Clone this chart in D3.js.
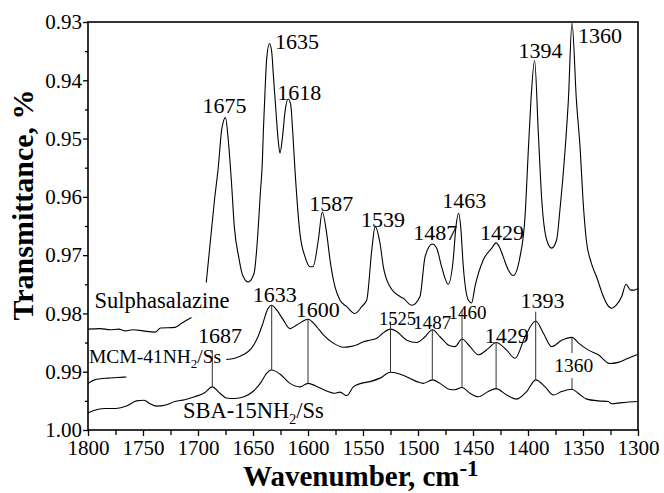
<!DOCTYPE html>
<html>
<head>
<meta charset="utf-8">
<script src="https://cdn.jsdelivr.net/npm/d3@7"></script>
<style>
  body { margin: 0; background: #fff; }
  svg { display: block; }
</style>
</head>
<body>
<svg id="chart" width="664" height="493"></svg>
<script>
const SERIF = '"Liberation Serif", "Times New Roman", Times, serif';

// ---- Axis ticks ----
const xTicks = [1800, 1750, 1700, 1650, 1600, 1550, 1500, 1450, 1400, 1350, 1300];
const xMinorTicks = [1775, 1725, 1675, 1625, 1575, 1525, 1475, 1425, 1375, 1325];
const yTicks = [0.93, 0.94, 0.95, 0.96, 0.97, 0.98, 0.99, 1.00];
const yMinorTicks = [0.935, 0.945, 0.955, 0.965, 0.975, 0.985, 0.995];

// ---- Sulphasalazine spectrum (two segments, split around its name) ----
const sulfaLeftWn = [1800, 1789, 1780, 1772, 1766, 1759, 1750, 1739, 1734, 1721, 1715, 1706];
const sulfaLeftT  = [0.9827, 0.9826, 0.9828, 0.9827, 0.9830, 0.9828, 0.9830, 0.9832, 0.9825, 0.9824, 0.9817, 0.9807];

const sulfaWn = [1692.5, 1685, 1681.5, 1678.5, 1675, 1672.5, 1669.5, 1667, 1663, 1659.5, 1654.3, 1649, 1646, 1643.2,
  1641.5, 1640.6, 1639.1, 1637.5, 1635, 1633, 1631.5, 1629.1, 1627, 1625.5, 1623, 1620.9, 1618, 1615.7, 1613.9,
  1611.8, 1607.3, 1602.7, 1598, 1595.5, 1590.6, 1587, 1583, 1580,
  1575.5, 1571, 1565, 1557.3, 1551, 1546.6, 1542, 1539, 1534.5, 1531.5, 1525.5, 1516.4, 1513.4, 1505.7, 1498.2,
  1493.6, 1487, 1483, 1478.5, 1472.5, 1468, 1465.5, 1463, 1461.2, 1458.8, 1454.3, 1451.2, 1448.2, 1440.6, 1433,
  1429, 1425.5, 1422.5, 1418, 1413.4, 1407.3, 1402.7, 1399.7, 1397.3, 1394, 1390.6, 1387.5, 1383, 1378.5, 1374,
  1371, 1366.3, 1363.3, 1360, 1356, 1352.5, 1350, 1347, 1342.7, 1337.5, 1331.5, 1328.2, 1324, 1320, 1314.8, 1310.9,
  1306.6, 1303.6, 1300];
const sulfaT = [0.9747, 0.9605, 0.9548, 0.9485, 0.9464, 0.9502, 0.9577, 0.9651, 0.9703, 0.9734, 0.9746, 0.9731, 0.9674, 0.9590,
  0.9540, 0.9488, 0.9420, 0.9362, 0.9337, 0.9351, 0.9391, 0.9454, 0.9505, 0.9525, 0.9494, 0.9454, 0.9432, 0.9442, 0.9488,
  0.9555, 0.9663, 0.9703, 0.9720, 0.9720, 0.9674, 0.9626, 0.9663, 0.9708,
  0.9754, 0.9777, 0.9788, 0.9800, 0.9788, 0.9777, 0.9691, 0.9651, 0.9680, 0.9720, 0.9754, 0.9771, 0.9774, 0.9786, 0.9771,
  0.9703, 0.9681, 0.9688, 0.9720, 0.9750, 0.9708, 0.9651, 0.9628, 0.9651, 0.9720, 0.9777, 0.9782, 0.9754, 0.9708, 0.9688,
  0.9679, 0.9688, 0.9703, 0.9725, 0.9735, 0.9703, 0.9634, 0.9520, 0.9434, 0.9366, 0.9491, 0.9605, 0.9674, 0.9688, 0.9674,
  0.9623, 0.9520, 0.9434, 0.9302, 0.9434, 0.9520, 0.9605, 0.9674, 0.9712, 0.9738, 0.9771, 0.9784, 0.9791, 0.9786, 0.9771, 0.9750,
  0.9760, 0.9760, 0.9757];

// ---- MCM-41NH2/Ss spectrum (two segments) ----
const mcmLeftWn = [1800, 1794, 1782, 1773, 1765];
const mcmLeftT  = [0.9920, 0.9914, 0.9911, 0.9910, 0.9909];

const mcmWn = [1674.3, 1666.6, 1659.1, 1651.5, 1645.5, 1641, 1637, 1633, 1628.5, 1622.5, 1616.4, 1610.3, 1604.3, 1600,
  1592, 1586, 1577, 1568, 1562, 1556, 1550, 1544, 1537, 1532, 1525, 1519.4, 1510.3, 1501.2, 1493.6, 1487, 1480,
  1472.5, 1466.4, 1460, 1452.7, 1445.2, 1436, 1429, 1419.4, 1411.8, 1402.7, 1393, 1386, 1378.5, 1369.4, 1360, 1354,
  1345, 1336, 1325.5, 1318, 1309, 1300];
const mcmT = [0.9879, 0.9877, 0.9871, 0.9860, 0.9840, 0.9817, 0.9794, 0.9786, 0.9794, 0.9811, 0.9826, 0.9820, 0.9813, 0.9810,
  0.9823, 0.9837, 0.9851, 0.9858, 0.9857, 0.9854, 0.9849, 0.9846, 0.9842, 0.9834, 0.9827, 0.9831, 0.9846, 0.9850, 0.9840, 0.9828, 0.9840,
  0.9854, 0.9857, 0.9844, 0.9857, 0.9871, 0.9860, 0.9850, 0.9863, 0.9877, 0.9840, 0.9813, 0.9834, 0.9857, 0.9846, 0.9841, 0.9851,
  0.9863, 0.9871, 0.9886, 0.9884, 0.9877, 0.9870];

// ---- SBA-15NH2/Ss spectrum ----
const sbaWn = [1800, 1794, 1785, 1774.5, 1765, 1756, 1749, 1743.6, 1737.7, 1729.5, 1721, 1712, 1703, 1694, 1687, 1680,
  1674.3, 1666.6, 1658.2, 1650, 1642.3, 1638.2, 1633, 1625.5, 1616.4, 1607.3, 1600, 1590, 1581.8, 1576.4, 1571,
  1564.8, 1558.8, 1551.8, 1543.6, 1534.5, 1525, 1518.2, 1510, 1501, 1495.2, 1487, 1480, 1471.8, 1466.4, 1460,
  1452.7, 1445.2, 1436.1, 1429, 1419.4, 1410.3, 1401.2, 1393, 1384.5, 1377, 1369.4, 1360, 1354.3, 1346.6, 1336.1,
  1327, 1324, 1314.8, 1300];
const sbaT = [0.9971, 0.9966, 0.9963, 0.9963, 0.9959, 0.9950, 0.9949, 0.9955, 0.9959, 0.9957, 0.9951, 0.9948, 0.9943, 0.9936, 0.9926, 0.9937,
  0.9945, 0.9946, 0.9943, 0.9934, 0.9917, 0.9904, 0.9897, 0.9904, 0.9920, 0.9926, 0.9920, 0.9927, 0.9934, 0.9937, 0.9935,
  0.9941, 0.9926, 0.9920, 0.9917, 0.9911, 0.9901, 0.9903, 0.9909, 0.9917, 0.9920, 0.9914, 0.9920, 0.9930, 0.9931, 0.9927,
  0.9937, 0.9943, 0.9934, 0.9929, 0.9940, 0.9947, 0.9934, 0.9914, 0.9926, 0.9940, 0.9934, 0.9930, 0.9937, 0.9947, 0.9950,
  0.9951, 0.9955, 0.9953, 0.9951];

// ---- Peak labels of the Sulphasalazine band ----
const sulfaPeaks = [1675, 1635, 1618, 1587, 1539, 1487, 1463, 1429, 1394, 1360];

// ---- Connector lines between the modified-silica bands ----
const markWn     = [1687, 1633, 1600, 1525, 1487, 1460, 1429, 1393, 1360, 1360];
const markTop    = [0.9863, 0.9786, 0.9810, 0.9814, 0.9828, 0.9794, 0.9850, 0.9797, 0.9841, 0.9911];
const markBottom = [0.9926, 0.9897, 0.9920, 0.9901, 0.9914, 0.9927, 0.9929, 0.9914, 0.9868, 0.9930];

// ---- Labels of the modified-silica bands (anchored at the top of a connector) ----
const silicaPeaks = [1633, 1600, 1687, 1525, 1487, 1460, 1429, 1393, 1360];
const silicaAnchorT = [0.9786, 0.9810, 0.9863, 0.9814, 0.9828, 0.9794, 0.9850, 0.9797, 0.9868];

// ---- Layout ----
const W = 664, H = 493;
const margin = { left: 88, right: 26, top: 22, bottom: 63 };
const plotW = W - margin.left - margin.right;
const plotH = H - margin.top - margin.bottom;

// label offsets in px: [dx, dy, fontSize, anchor]
const sulfaLabelLayout = [
  [-1, -5, 22], [5.5, 5, 22, "start"], [-11, 1, 22, "start"], [9, -1.5, 22], [8, 0, 22],
  [3, -4, 22], [5.5, -5, 22], [6, -3, 22], [6, -2, 22], [6, 20, 22, "start"]
];
const silicaLabelLayout = [
  [3, -3.4, 22], [9.7, -1.8, 22], [7.7, -7.5, 22], [7, 3, 18.5], [0, -1, 19],
  [5.5, 8.6, 19], [10.6, 0, 22], [6.8, -4, 22], [1.8, 19.3, 19.5]
];

const svg = d3.select("#chart");
const g = svg.append("g").attr("transform", `translate(${margin.left},${margin.top})`);

const x = d3.scaleLinear().domain([1800, 1300]).range([0, plotW]);
const y = d3.scaleLinear().domain([0.93, 1.00]).range([0, plotH]);

const zip = (a, b) => a.map((v, i) => [v, b[i]]);
const line = d3.line().x(d => x(d[0])).y(d => y(d[1])).curve(d3.curveMonotoneX);

// Spectra
const spectra = [
  zip(sulfaLeftWn, sulfaLeftT), zip(sulfaWn, sulfaT),
  zip(mcmLeftWn, mcmLeftT), zip(mcmWn, mcmT),
  zip(sbaWn, sbaT)
];
g.selectAll("path.spectrum").data(spectra).join("path")
  .attr("class", "spectrum")
  .attr("d", line)
  .attr("fill", "none")
  .attr("stroke", "#000")
  .attr("stroke-width", 1.1);

// Connector lines
g.selectAll("line.mark").data(markWn.map((w, i) => ({ w, t0: markTop[i], t1: markBottom[i] })))
  .join("line")
  .attr("class", "mark")
  .attr("x1", d => x(d.w)).attr("x2", d => x(d.w))
  .attr("y1", d => y(d.t0)).attr("y2", d => y(d.t1))
  .attr("stroke", "#333")
  .attr("stroke-width", 1);

// Sulphasalazine peak labels
const sulfaLookup = new Map(sulfaWn.map((w, i) => [w, sulfaT[i]]));
g.selectAll("text.peak").data(sulfaPeaks).join("text")
  .attr("class", "peak")
  .attr("x", (w, i) => x(w) + sulfaLabelLayout[i][0])
  .attr("y", (w, i) => y(sulfaLookup.get(w)) + sulfaLabelLayout[i][1])
  .style("font-size", (w, i) => sulfaLabelLayout[i][2] + "px")
  .attr("text-anchor", (w, i) => sulfaLabelLayout[i][3] || "middle")
  .text(w => w);

// Silica band labels
g.selectAll("text.band").data(silicaPeaks).join("text")
  .attr("class", "band")
  .attr("x", (w, i) => x(w) + silicaLabelLayout[i][0])
  .attr("y", (w, i) => y(silicaAnchorT[i]) + silicaLabelLayout[i][1])
  .style("font-size", (w, i) => silicaLabelLayout[i][2] + "px")
  .attr("text-anchor", "middle")
  .text(w => w);

// Series names
g.append("text").attr("x", 6.5).attr("y", 286.3).style("font-size", "22.5px").text("Sulphasalazine");

const mcmName = g.append("text").attr("x", 1).attr("y", 340.5).style("font-size", "19.5px");
mcmName.append("tspan").text("MCM-41NH");
mcmName.append("tspan").style("font-size", "13px").attr("dy", 5).text("2");
mcmName.append("tspan").attr("dy", -5).text("/Ss");

const sbaName = g.append("text").attr("x", 95).attr("y", 396.3).style("font-size", "22.5px");
sbaName.append("tspan").text("SBA-15NH");
sbaName.append("tspan").style("font-size", "14px").attr("dy", 6).text("2");
sbaName.append("tspan").attr("dy", -6).text("/Ss");

// Axes
const xAxis = g.append("g").attr("transform", `translate(0,${plotH})`)
  .call(d3.axisBottom(x).tickValues(xTicks).tickSize(6).tickPadding(4).tickFormat(d3.format("d")));
g.append("g").attr("transform", `translate(0,${plotH})`)
  .call(d3.axisBottom(x).tickValues(xMinorTicks).tickSize(5).tickFormat(""));
const yAxis = g.append("g")
  .call(d3.axisLeft(y).tickValues(yTicks).tickSize(5).tickPadding(1).tickFormat(d3.format(".2f")));
g.append("g")
  .call(d3.axisLeft(y).tickValues(yMinorTicks).tickSize(3).tickFormat(""));

g.selectAll(".domain").remove();
g.selectAll(".tick line").attr("stroke", "#000").attr("stroke-width", 1.3);
xAxis.selectAll("text").style("font-size", "21px").attr("fill", "#000");
yAxis.selectAll("text").style("font-size", "21px").attr("fill", "#000");

// Frame
g.append("rect")
  .attr("x", 0).attr("y", 0).attr("width", plotW).attr("height", plotH)
  .attr("fill", "none").attr("stroke", "#000").attr("stroke-width", 1.6);

// Axis titles
svg.append("text")
  .attr("transform", `translate(33,205) rotate(-90)`)
  .attr("text-anchor", "middle")
  .style("font-size", "30px").style("font-weight", "bold")
  .text("Transmittance, %");

const xTitle = svg.append("text")
  .attr("x", 243).attr("y", 486)
  .style("font-size", "29px").style("font-weight", "bold");
xTitle.append("tspan").text("Wavenumber, cm");
xTitle.append("tspan").style("font-size", "23px").attr("dy", -10).text("-1");

// Every text in the chart uses the serif face
svg.selectAll("text").style("font-family", SERIF).attr("fill", "#000");
</script>
</body>
</html>
